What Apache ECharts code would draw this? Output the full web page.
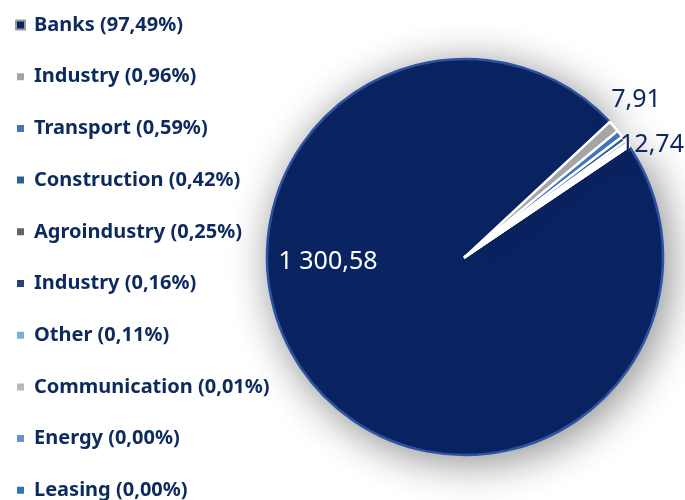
<!DOCTYPE html>
<html>
<head>
<meta charset="utf-8">
<script src="https://cdn.jsdelivr.net/npm/echarts@6/dist/echarts.min.js"></script>
<style>
  html, body { margin: 0; padding: 0; background: #fff; }
  #chart { width: 685px; height: 500px; }
</style>
</head>
<body>
<div id="chart"></div>
<script>
// sectors and their shares
const categories = ['Banks', 'Industry', 'Transport', 'Construction', 'Agroindustry', 'Industry', 'Other', 'Communication', 'Energy', 'Leasing']
const shares = ['97,49', '0,96', '0,59', '0,42', '0,25', '0,16', '0,11', '0,01', '0,00', '0,00']
const values = [1300.58, 12.74, 7.91, 5.60, 3.34, 2.13, 1.47, 0.13, 0.04, 0.03]
const colors = ['#0a2463', '#a5a5a5', '#4472c4', '#2a6296', '#636363', '#26437a', '#7cafdd', '#b9b9b9', '#6b8fd0', '#2e75b6']
// only these slices carry a value label
const labelled = [0, 1, 2]

const names = categories.map((c, i) => c + ' (' + shares[i] + '%)')

const fmt = v => {
  const [a, b] = v.toFixed(2).split('.')
  return a.replace(/\B(?=(\d{3})+(?!\d))/g, ' ') + ',' + b
}

const chart = echarts.init(document.getElementById('chart'))

const data = values.map((v, i) => ({
  name: names[i],
  value: v,
  itemStyle: i === 0
    ? {
        color: colors[i], borderColor: '#2d52a3', borderWidth: 2.5,
        shadowBlur: 40, shadowColor: 'rgba(0,0,0,0.45)', shadowOffsetX: 5, shadowOffsetY: 6
      }
    : { color: colors[i], borderColor: '#ffffff', borderWidth: 2.5 },
  label: labelled.includes(i)
    ? (i === 0
        ? { show: true, position: 'inside', color: '#ffffff', fontSize: 25 }
        : { show: true, position: 'outside', color: '#0d2a63', fontSize: 25 })
    : { show: false },
  labelLine: { show: false }
}))

const option = {
  backgroundColor: '#ffffff',
  animation: false,
  legend: {
    orient: 'vertical',
    left: 10,
    top: 10,
    height: 495,
    icon: 'rect',
    itemWidth: 9,
    itemHeight: 9,
    itemGap: 31.7,
    textStyle: {
      fontFamily: 'Noto Sans',
      fontWeight: 'bold',
      fontSize: 20,
      color: '#0d2a5e',
      lineHeight: 20,
      padding: [0, 0, 0, 4]
    },
    data: names.map((n, i) => i === 0
      ? { name: n, itemStyle: { color: colors[0], borderColor: '#9a9a9a', borderWidth: 2 } }
      : { name: n })
  },
  series: [
    {
      type: 'pie',
      center: [465, 257],
      radius: [0, 198],
      startAngle: 34,
      clockwise: true,
      avoidLabelOverlap: false,
      label: { fontFamily: 'Noto Sans', formatter: p => fmt(p.value) },
      labelLine: { show: false, length: 2, length2: 2 },
      labelLayout: p => {
        if (p.dataIndex === 0) return { x: 328, y: 262, align: 'center', verticalAlign: 'middle' }
        if (p.dataIndex === 1) return { x: 652, y: 145, align: 'center', verticalAlign: 'middle' }
        if (p.dataIndex === 2) return { x: 636, y: 100, align: 'center', verticalAlign: 'middle' }
      },
      emphasis: { disabled: true },
      data: data
    }
  ]
}

chart.setOption(option)
</script>
</body>
</html>
